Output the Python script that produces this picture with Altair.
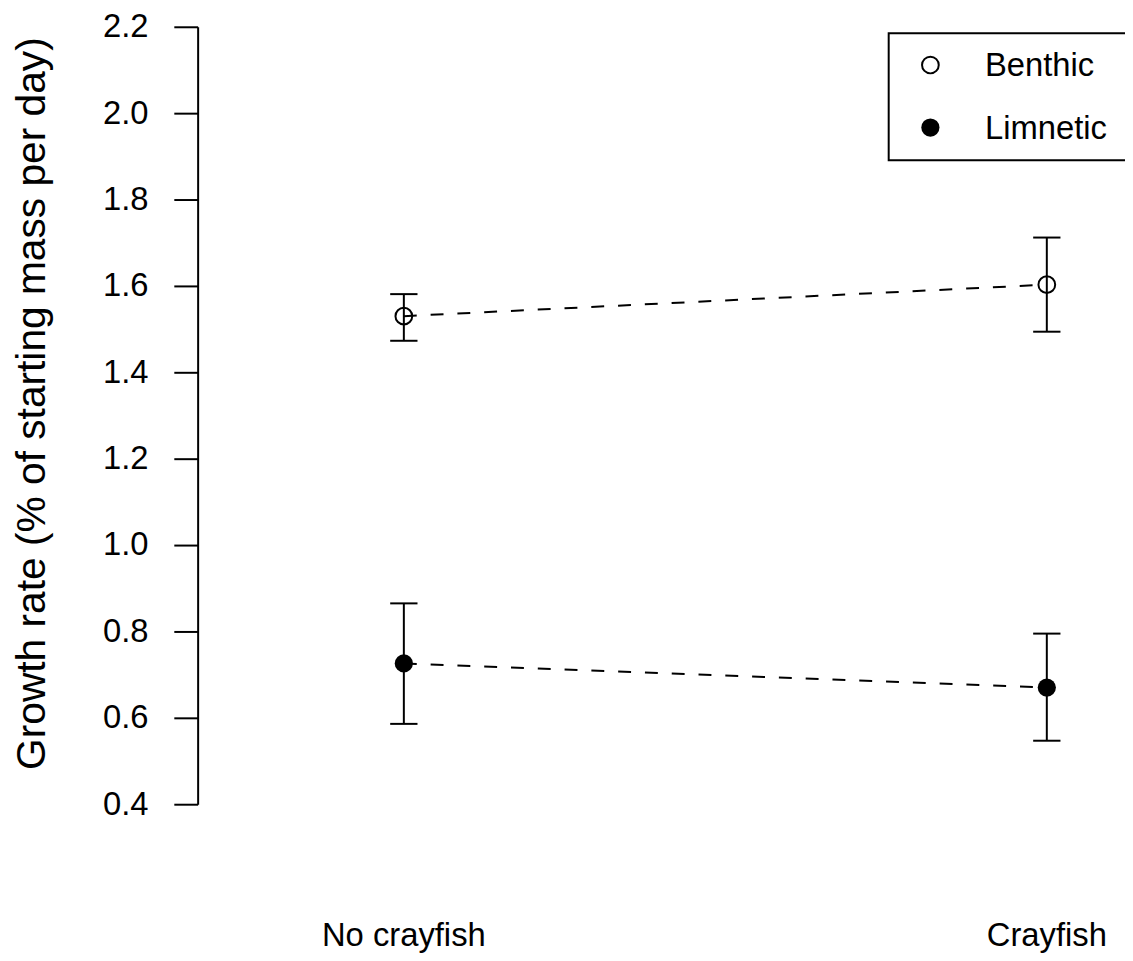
import altair as alt
import pandas as pd

# ---- data ----
treatments = ["No crayfish", "Crayfish"]
treatment_pos = [1, 2]
series = ["Benthic", "Limnetic"]
benthic_mean = [1.530, 1.603]
benthic_lo = [1.473, 1.494]
benthic_hi = [1.581, 1.712]
limnetic_mean = [0.726, 0.670]
limnetic_lo = [0.586, 0.547]
limnetic_hi = [0.865, 0.795]
y_ticks = [0.4, 0.6, 0.8, 1.0, 1.2, 1.4, 1.6, 1.8, 2.0, 2.2]
y_title = "Growth rate (% of starting mass per day)"

rows = []
for s, means, los, his in zip(series,
                              [benthic_mean, limnetic_mean],
                              [benthic_lo, limnetic_lo],
                              [benthic_hi, limnetic_hi]):
    for t, p, m, lo, hi in zip(treatments, treatment_pos, means, los, his):
        rows.append(dict(series=s, treatment=t, pos=p, mean=m, lo=lo, hi=hi))
df = pd.DataFrame(rows)
lab_df = pd.DataFrame({"treatment": treatments, "pos": treatment_pos})

FONT = "Liberation Sans"
FS = 33
W, H = 934, 783

x_enc = alt.X("pos:Q", scale=alt.Scale(domain=[0.6793, 2.1216], nice=False, zero=False), axis=None)
y_scale = alt.Scale(domain=[0.4, 2.2], nice=False, zero=False)
y_axis = alt.Axis(values=y_ticks, format=".1f", grid=False,
                  domainColor="black", domainWidth=2,
                  tickColor="black", tickWidth=2, tickSize=24,
                  labelPadding=26, labelFont=FONT, labelFontSize=FS, labelColor="black",
                  titleFont=FONT, titleFontSize=41, titleFontWeight="normal", titleColor="black",
                  titleX=-154, titleY=379, titleBaseline="alphabetic", titleAngle=270)


def Y(field):
    return alt.Y(field, type="quantitative", scale=y_scale, axis=y_axis, title=y_title)


base = alt.Chart(df)

lines = base.mark_line(color="black", strokeWidth=2, strokeDash=[13, 14]).encode(
    x=x_enc, y=Y("mean"), detail="series:N")

bars = base.mark_rule(color="black", strokeWidth=2).encode(
    x=x_enc, y=Y("lo"), y2="hi:Q")

caps_lo = base.mark_tick(orient="horizontal", size=27.5, thickness=2, color="black", opacity=1).encode(
    x=x_enc, y=Y("lo"))
caps_hi = base.mark_tick(orient="horizontal", size=27.5, thickness=2, color="black", opacity=1).encode(
    x=x_enc, y=Y("hi"))

open_pts = base.transform_filter(alt.datum.series == series[0]).mark_point(
    shape="circle", filled=False, size=284, strokeWidth=2, color="black", opacity=1).encode(
    x=x_enc, y=Y("mean"))
filled_pts = base.transform_filter(alt.datum.series == series[1]).mark_point(
    shape="circle", filled=True, size=336, color="black", opacity=1).encode(
    x=x_enc, y=Y("mean"))

xlabels = alt.Chart(lab_df).mark_text(font=FONT, fontSize=FS, color="black",
                                       align="center", baseline="alphabetic").encode(
    x=x_enc, y=alt.value(925.5), text="treatment:N")

# ---- legend (top right, box runs past the edge) ----
leg_df = pd.DataFrame({"series": series})
leg_box = alt.Chart(pd.DataFrame({"k": [0]})).mark_rect(
    fill="white", stroke="black", strokeWidth=2).encode(
    x=alt.value(696), x2=alt.value(1100), y=alt.value(6.5), y2=alt.value(134.5))

legend_layers = [leg_box]
for i, s in enumerate(series):
    ys = 38.5 + 63 * i
    one = alt.Chart(leg_df).transform_filter(alt.datum.series == s)
    legend_layers.append(one.mark_point(shape="circle", filled=(i == 1),
                                        size=(336 if i == 1 else 284),
                                        strokeWidth=2, color="black", opacity=1).encode(
        x=alt.value(738), y=alt.value(ys)))
    legend_layers.append(one.mark_text(font=FONT, fontSize=FS, color="black",
                                       align="left", baseline="alphabetic").encode(
        x=alt.value(793), y=alt.value(ys + 11.5), text="series:N"))

chart = alt.layer(lines, bars, caps_lo, caps_hi, open_pts, filled_pts, xlabels,
                  *legend_layers).properties(
    width=W, height=H,
    autosize=alt.AutoSizeParams(type="none"),
    padding={"left": 191, "top": 15.5, "right": 0, "bottom": 154.5},
    background="white",
).configure_view(stroke=None)

chart.save("out.html", embed_options={"renderer": "svg", "actions": False})
